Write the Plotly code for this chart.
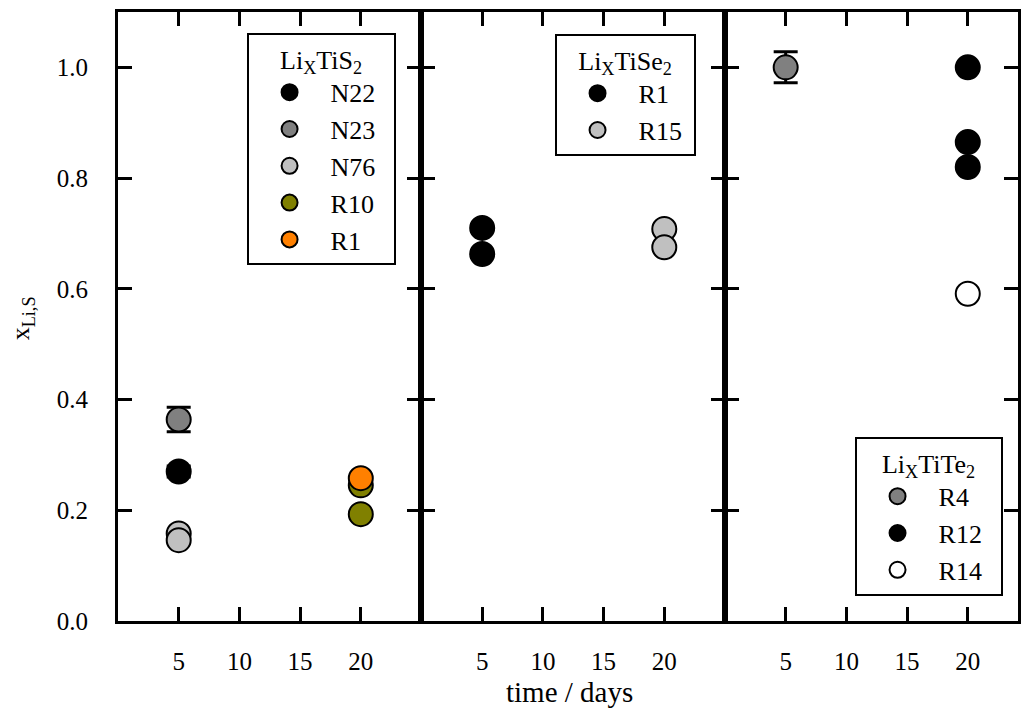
import plotly.graph_objects as go

# ---- data: lithium content x_Li,S versus time for three host lattices ----
days_ticks = [5, 10, 15, 20]
y_ticks = [0.0, 0.2, 0.4, 0.6, 0.8, 1.0]

# LixTiS2
tis2_n22_t = [5]
tis2_n22_x = [0.27]
tis2_n22_err = [0.01]
tis2_n23_t = [5]
tis2_n23_x = [0.364]
tis2_n23_err = [0.022]
tis2_n76_t = [5, 5]
tis2_n76_x = [0.158, 0.146]
tis2_r10_t = [20, 20]
tis2_r10_x = [0.245, 0.193]
tis2_r1_t = [20]
tis2_r1_x = [0.258]

# LixTiSe2
tise2_r1_t = [5, 5]
tise2_r1_x = [0.71, 0.663]
tise2_r15_t = [20, 20]
tise2_r15_x = [0.708, 0.675]

# LixTiTe2
tite2_r4_t = [5]
tite2_r4_x = [1.0]
tite2_r4_err = [0.028]
tite2_r12_t = [20, 20, 20]
tite2_r12_x = [1.0, 0.865, 0.82]
tite2_r14_t = [20]
tite2_r14_x = [0.591]

FONT = "Liberation Serif, Times New Roman, serif"
MSIZE = 24
NB = "\u00a0"


def font(size):
    return dict(family=FONT, size=size, color="black")


fig = go.Figure()


def add(t, x, name, color, xa, ya, legend, pad=2, err=None):
    kw = {}
    if err is not None:
        kw["error_y"] = dict(type="data", array=err, visible=True,
                             color="black", thickness=3, width=12)
    fig.add_trace(go.Scatter(
        x=t, y=x, mode="markers", name=name + NB * pad,
        xaxis=xa, yaxis=ya, legend=legend,
        marker=dict(size=MSIZE, color=color, symbol="circle",
                    line=dict(color="black", width=2)),
        **kw))


add(tis2_n22_t, tis2_n22_x, "N22", "#000000", "x", "y", "legend", err=tis2_n22_err)
add(tis2_n23_t, tis2_n23_x, "N23", "#808080", "x", "y", "legend", err=tis2_n23_err)
add(tis2_n76_t, tis2_n76_x, "N76", "#c0c0c0", "x", "y", "legend")
add(tis2_r10_t, tis2_r10_x, "R10", "#808000", "x", "y", "legend")
add(tis2_r1_t, tis2_r1_x, "R1", "#ff8000", "x", "y", "legend")

add(tise2_r1_t, tise2_r1_x, "R1", "#000000", "x2", "y2", "legend2", pad=1)
add(tise2_r15_t, tise2_r15_x, "R15", "#c0c0c0", "x2", "y2", "legend2", pad=1)

add(tite2_r4_t, tite2_r4_x, "R4", "#808080", "x3", "y3", "legend3", err=tite2_r4_err)
add(tite2_r12_t, tite2_r12_x, "R12", "#000000", "x3", "y3", "legend3")
add(tite2_r14_t, tite2_r14_x, "R14", "#ffffff", "x3", "y3", "legend3")

L, R, T, B = 118, 0, 12, 88
W, H = 1021, 709
plot_w = W - L - R
plot_h = H - T - B
panel_px = 304.5
d1 = panel_px / plot_w
d2 = 2 * panel_px / plot_w
last_range = 25 * (plot_w - 2 * panel_px) / panel_px


def axis(**extra):
    base = dict(
        showline=True, linewidth=3, linecolor="black",
        ticks="inside", ticklen=14, tickwidth=3, tickcolor="black",
        showgrid=False, zeroline=False, mirror="ticks",
        tickfont=font(25),
    )
    base.update(extra)
    return base


def xaxis(domain, rng, anchor):
    return axis(tickvals=days_ticks, ticklabelstandoff=16,
                domain=domain, range=rng, anchor=anchor)


def yaxis(anchor, labels):
    return axis(tickvals=y_ticks, range=[0, 1.1], anchor=anchor,
                showticklabels=labels, tickformat=".1f", ticklabelstandoff=22)


def legend(left_px, top_px, title):
    return dict(
        bgcolor="white", bordercolor="black", borderwidth=2,
        font=font(26), itemsizing="trace", tracegroupgap=0, itemwidth=72,
        xanchor="left", yanchor="top",
        x=(left_px - L) / plot_w, y=1 - (top_px - T) / plot_h,
        title=dict(text=title, side="top center", font=font(26)),
    )


fig.update_layout(
    width=W, height=H,
    margin=dict(l=L, r=R, t=T, b=B, pad=0),
    paper_bgcolor="white", plot_bgcolor="white",
    font=font(25),
    xaxis=xaxis([0, d1], [0, 25], "y"),
    xaxis2=xaxis([d1, d2], [0, 25], "y2"),
    xaxis3=xaxis([d2, 1], [0, last_range], "y3"),
    yaxis=yaxis("x", True),
    yaxis2=yaxis("x2", False),
    yaxis3=yaxis("x3", False),
    legend=legend(247, 33, "Li<sub>X</sub>TiS<sub>2</sub>"),
    legend2=legend(556, 34, "Li<sub>X</sub>TiSe<sub>2</sub>"),
    legend3=legend(857, 437, "Li<sub>X</sub>TiTe<sub>2</sub>"),
    annotations=[
        dict(text="time / days", xref="paper", yref="paper",
             x=(571 - L) / plot_w, y=-(692 - (H - B)) / plot_h,
             xanchor="center", yanchor="middle", showarrow=False,
             font=font(29)),
        dict(text="x<sub>Li,S</sub>", xref="paper", yref="paper",
             x=-(L - 22) / plot_w, y=1 - (318 - T) / plot_h,
             xanchor="center", yanchor="middle", showarrow=False, textangle=-90,
             font=font(26)),
    ],
)

fig.write_html("out.html")
